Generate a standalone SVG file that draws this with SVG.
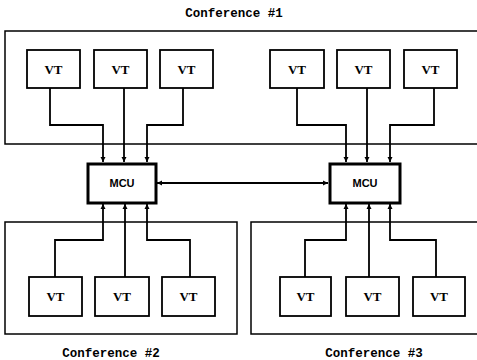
<svg xmlns="http://www.w3.org/2000/svg" width="477" height="360" viewBox="0 0 477 360">
<style>
.conf{fill:none;stroke:#000;stroke-width:1.5}
.vt{fill:#fff;stroke:#000;stroke-width:1.8}
.mcu{fill:#fff;stroke:#000;stroke-width:3}
.vtt{font-family:"Liberation Serif",serif;font-weight:bold;font-size:13px;text-anchor:middle}
.mt{font-family:"Liberation Sans",sans-serif;font-weight:bold;font-size:11px;text-anchor:middle}
.lbl{font-family:"Liberation Mono",monospace;font-weight:bold;font-size:12.5px;text-anchor:middle}
.c{fill:none;stroke:#000;stroke-width:1.8}
</style>
<defs>
<marker id="ah" viewBox="0 0 6 6" refX="6" refY="3" markerWidth="3" markerHeight="3" orient="auto-start-reverse" markerUnits="strokeWidth">
<path d="M0,0 L6,3 L0,6 Z" fill="#000"/>
</marker>
</defs>
<rect width="477" height="360" fill="#fff"/>
<g id="conf1"><path class="conf" d="M477,31 H5 V144 H477"/><text class="lbl" x="234" y="17">Conference #1</text></g>
<g id="conf2"><rect class="conf" x="5" y="222" width="232" height="112"/><text class="lbl" x="111" y="357">Conference #2</text></g>
<g id="conf3"><path class="conf" d="M477,222 H251 V334 H477"/><text class="lbl" x="374" y="357">Conference #3</text></g>
<g id="connectors">
<path class="c" d="M50,88 V125 H103 V162" marker-end="url(#ah)"/>
<path class="c" d="M124,88 V162" marker-end="url(#ah)"/>
<path class="c" d="M183,88 V125 H147 V162" marker-end="url(#ah)"/>
<path class="c" d="M297,88 V125 H346 V162" marker-end="url(#ah)"/>
<path class="c" d="M367,88 V162" marker-end="url(#ah)"/>
<path class="c" d="M434,88 V125 H390 V162" marker-end="url(#ah)"/>
<path class="c" d="M55,277 V240 H103 V204" marker-end="url(#ah)"/>
<path class="c" d="M125,277 V204" marker-end="url(#ah)"/>
<path class="c" d="M190,277 V240 H147 V204" marker-end="url(#ah)"/>
<path class="c" d="M305,277 V240 H346 V204" marker-end="url(#ah)"/>
<path class="c" d="M369,277 V204" marker-end="url(#ah)"/>
<path class="c" d="M436,277 V240 H390 V204" marker-end="url(#ah)"/>
<path class="c" d="M157,183 H328" stroke-width="1.3" marker-start="url(#ah)" marker-end="url(#ah)"/>
</g>
<g id="vt1"><rect class="vt" x="27" y="50" width="53" height="38"/><text class="vtt" x="53.5" y="74">VT</text></g>
<g id="vt2"><rect class="vt" x="94" y="50" width="53" height="38"/><text class="vtt" x="120.5" y="74">VT</text></g>
<g id="vt3"><rect class="vt" x="160" y="50" width="53" height="38"/><text class="vtt" x="186.5" y="74">VT</text></g>
<g id="vt4"><rect class="vt" x="270" y="50" width="54" height="38"/><text class="vtt" x="297" y="74">VT</text></g>
<g id="vt5"><rect class="vt" x="337" y="50" width="53" height="38"/><text class="vtt" x="363.5" y="74">VT</text></g>
<g id="vt6"><rect class="vt" x="404" y="50" width="53" height="38"/><text class="vtt" x="430.5" y="74">VT</text></g>
<g id="mcu1"><rect class="mcu" x="88" y="164" width="68" height="39"/><text class="mt" x="122" y="187">MCU</text></g>
<g id="mcu2"><rect class="mcu" x="330" y="164" width="70" height="39"/><text class="mt" x="365" y="187">MCU</text></g>
<g id="vt7"><rect class="vt" x="29" y="277" width="53" height="39"/><text class="vtt" x="55.5" y="301">VT</text></g>
<g id="vt8"><rect class="vt" x="95" y="277" width="54" height="39"/><text class="vtt" x="122" y="301">VT</text></g>
<g id="vt9"><rect class="vt" x="162" y="277" width="53" height="39"/><text class="vtt" x="188.5" y="301">VT</text></g>
<g id="vt10"><rect class="vt" x="280" y="277" width="51" height="39"/><text class="vtt" x="305.5" y="301">VT</text></g>
<g id="vt11"><rect class="vt" x="346" y="277" width="53" height="39"/><text class="vtt" x="372.5" y="301">VT</text></g>
<g id="vt12"><rect class="vt" x="413" y="277" width="52" height="39"/><text class="vtt" x="439" y="301">VT</text></g>
</svg>
